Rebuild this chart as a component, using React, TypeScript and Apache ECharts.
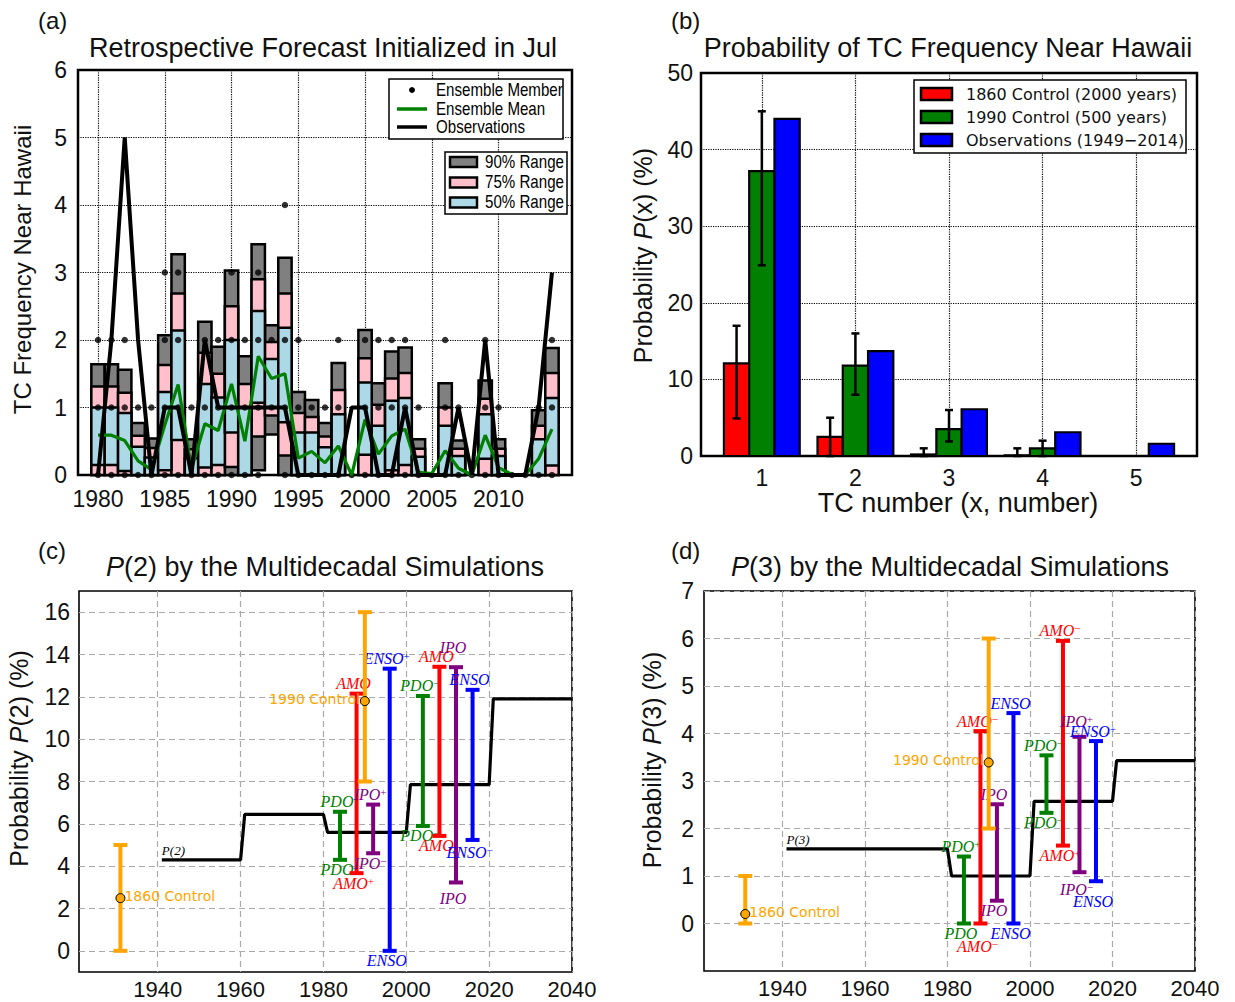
import React, { useEffect, useRef } from 'react';
import * as echarts from 'echarts';

// ---------------- Panel (a): retrospective forecast ----------------
const yearsA = [1980, 1981, 1982, 1983, 1984, 1985, 1986, 1987, 1988, 1989, 1990, 1991, 1992, 1993, 1994, 1995, 1996, 1997, 1998, 1999, 2000, 2001, 2002, 2003, 2004, 2005, 2006, 2007, 2008, 2009, 2010, 2011, 2012, 2013, 2014];
const range90Low = [0, 0, 0, 0, 0, 0, 0, 0, 0, 0, 0, 0, 0.07, 0.6, 0, 0, 0, 0, 0, null, 0, 0, 0, 0, 0, null, 0, 0, null, 0, 0, null, null, 0, 0];
const range90High = [1.64, 1.64, 1.56, 0.77, 0.54, 2.07, 3.27, 0.53, 2.27, 1.9, 3.03, 1.76, 3.42, 2.22, 3.22, 1.23, 1.11, 0.77, 1.66, null, 2.15, 1.36, 1.83, 1.89, 0.53, null, 1.36, 0.51, null, 1.4, 0.53, null, null, 0.96, 1.88];
const range75Low = [0, 0, 0, 0, 0, 0, 0, 0, 0, 0, 0.12, 0, 0.57, 0.88, 0.29, 0, 0, 0, 0, null, 0, 0, 0, 0, 0, null, 0, 0, null, 0, 0, null, null, 0, 0];
const range75High = [1.31, 1.31, 1.22, 0.58, 0.4, 1.63, 2.69, 0.38, 1.81, 1.5, 2.5, 1.35, 2.9, 1.97, 2.69, 0.92, 0.86, 0.57, 1.26, null, 1.73, 1.04, 1.43, 1.51, 0.39, null, 1.0, 0.39, null, 1.13, 0.39, null, null, 0.73, 1.51];
const range50Low = [0.15, 0.15, 0.06, 0, 0, 0.07, 0.52, 0, 0.11, 0.15, 0.63, 0, 1.07, 1.0, 0.78, 0, 0, 0, 0, null, 0.3, 0, 0.07, 0.15, 0, null, 0, 0, null, 0.24, 0, null, null, 0, 0.14];
const range50High = [1.0, 1.0, 0.92, 0.42, 0.26, 1.23, 2.14, 0.25, 1.35, 1.15, 2.0, 1.0, 2.43, 1.72, 2.18, 0.63, 0.63, 0.41, 0.9, null, 1.37, 0.73, 1.1, 1.14, 0.27, null, 0.73, 0.28, null, 0.9, 0.28, null, null, 0.53, 1.14];
const ensembleMean = [0.59, 0.59, 0.51, 0.21, 0.08, 0.74, 1.34, 0.09, 0.76, 0.66, 1.35, 0.5, 1.76, 1.43, 1.5, 0.25, 0.35, 0.18, 0.43, 0, 0.82, 0.31, 0.58, 0.68, 0.04, 0.02, 0.36, 0.1, 0, 0.59, 0.11, 0.01, 0, 0.24, 0.68];
const observedCount = [0, 2, 5, 2, 0, 1, 1, 0, 2, 1, 1, 1, 1, 1, 1, 0, 0, 0, 0, 1, 1, 0, 0, 1, 0, 0, 0, 1, 0, 2, 0, 0, 0, 1, 3];
const memberLevels = [
  [0, 1, 2], [0, 1, 2], [0, 1, 2], [0, 1], [0, 1], [0, 1, 2, 3], [0, 1, 2, 3], [0, 1], [0, 1, 2], [0, 1, 2],
  [0, 1, 2, 3], [0, 1, 2], [0, 1, 2, 3], [1, 2], [0, 1, 2, 4], [0, 1, 2], [0, 1], [0, 1], [0, 1, 2], [0],
  [0, 1, 2], [0, 1, 2], [0, 1, 2], [0, 1, 2], [0, 1], [0], [0, 1, 2], [0, 1], [0], [0, 1, 2],
  [0, 1], [0], [0], [0, 1], [0, 1, 2],
];
const xTicksA = [1980, 1985, 1990, 1995, 2000, 2005, 2010];

// ---------------- Panel (b): probability of TC frequency ----------------
const tcNumbers = [1, 2, 3, 4, 5];
const prob1860 = [12.1, 2.5, 0.2, 0.1, 0];
const prob1860Low = [4.9, 0, 0, 0, 0];
const prob1860High = [17.0, 5.0, 1.0, 1.0, 0];
const prob1990 = [37.2, 11.8, 3.5, 1.0, 0];
const prob1990Low = [24.9, 8.0, 1.9, 0, 0];
const prob1990High = [45.0, 16.0, 6.0, 2.0, 0];
const probObs = [44.0, 13.7, 6.1, 3.1, 1.6];
const legendB = ['1860 Control (2000 years)', '1990 Control (500 years)', 'Observations (1949\u22122014)'];

// ---------------- Panels (c), (d): multidecadal simulations ----------------
const periodStart = [1941, 1961, 1981, 2001, 2021];
const periodEnd = [1960, 1980, 2000, 2020, 2040];
const p2Period = [4.3, 6.45, 5.6, 7.85, 11.9];
const p3Period = [1.57, 1.57, 1.0, 2.57, 3.43];

const modeYear = [1984, 1988, 1992, 1996, 2004, 2008, 2012, 2016];
const modeName = ['PDO', 'AMO', 'IPO', 'ENSO', 'PDO', 'AMO', 'IPO', 'ENSO'];
const p2ModeLow = [4.3, 3.67, 4.61, 0, 5.9, 5.43, 3.23, 5.24];
const p2ModeHigh = [6.57, 12.15, 6.91, 13.33, 12.04, 13.42, 13.4, 12.33];
const p2TopLabel = ['PDO', 'AMO', 'IPO\u207A', 'ENSO\u207A', 'PDO\u207B', 'AMO', 'IPO', 'ENSO'];
const p2BottomLabel = ['PDO', 'AMO\u207A', 'IPO\u207B', 'ENSO', 'PDO\u207B', 'AMO', 'IPO', 'ENSO\u207B'];
const p3ModeLow = [0, 0, 0.48, 0, 2.33, 1.64, 1.08, 0.89];
const p3ModeHigh = [1.41, 4.05, 2.51, 4.43, 3.54, 5.95, 3.93, 3.84];
const p3TopLabel = ['PDO\u207A', 'AMO\u207B', 'IPO', 'ENSO', 'PDO\u207B', 'AMO\u207B', 'IPO\u207A', 'ENSO\u207A'];
const p3BottomLabel = ['PDO', 'AMO\u207B', 'IPO', 'ENSO', 'PDO\u207B', 'AMO\u207A', 'IPO\u207B', 'ENSO'];

const controlYear = [1931, 1990];
const controlName = ['1860 Control', '1990 Control'];
const p2ControlLow = [0, 8.0];
const p2ControlHigh = [5.0, 16.0];
const p2ControlMean = [2.49, 11.8];
const p3ControlLow = [0, 2.0];
const p3ControlHigh = [1.0, 6.0];
const p3ControlMean = [0.2, 3.39];

const xTicksCD = [1940, 1960, 1980, 2000, 2020, 2040];
const yTicksC = [0, 2, 4, 6, 8, 10, 12, 14, 16];
const yTicksD = [0, 1, 2, 3, 4, 5, 6, 7];

// ---------------- styles ----------------
const SANS = 'Liberation Sans';
const DEJA = 'DejaVu Sans';
const SERIF = 'Liberation Serif';
const modeColor: Record<string, string> = { PDO: '#008000', AMO: '#ff0000', IPO: '#800080', ENSO: '#0000ff' };
const ORANGE = '#ffa500';
// extra label nudges (pixels) for crowded labels
const p2TopNudge = [0, 0, 0, 0, 0, 0, 10, 0];
const p2BottomNudge = [0, 0, 0, 0, 0, 0, 6, 3];
const p3TopNudge = [0, 0, 0, 0, 0, 0, 5, 0];
const p3BottomNudge = [0, 13, 0, 0, 0, 0, 7, 10];
const controlSide = ['right', 'left'];

function txt(text: string, x: number, y: number, fill: string, font: string, align = 'center', vAlign = 'middle', extra: any = {}) {
  return {
    type: 'text',
    x, y,
    style: { text, fill, font, textAlign: align, textVerticalAlign: vAlign, align, verticalAlign: vAlign, ...extra },
  };
}

function supText(label: string) {
  return label.replace('\u207A', '{s|+}').replace('\u207B', '{s|\u2212}');
}

function rangeBar(fill: string) {
  return (params: any, api: any) => {
    const x = api.value(0), lo = api.value(1), hi = api.value(2);
    const a = api.coord([x - 0.5, hi]);
    const b = api.coord([x + 0.5, lo]);
    return {
      type: 'rect',
      shape: { x: a[0], y: a[1], width: b[0] - a[0], height: b[1] - a[1] },
      style: { fill, stroke: '#000', lineWidth: 2.5 },
    };
  };
}

function probBar(fill: string, offset: number) {
  return (params: any, api: any) => {
    const x = api.value(0) + offset, v = api.value(1);
    const a = api.coord([x - 0.135, v]);
    const b = api.coord([x + 0.135, 0]);
    return {
      type: 'rect',
      shape: { x: a[0], y: a[1], width: b[0] - a[0], height: b[1] - a[1] },
      style: { fill, stroke: '#000', lineWidth: 2.2 },
    };
  };
}

function errBarB(offset: number) {
  return (params: any, api: any) => {
    const x = api.value(0) + offset, lo = api.value(1), hi = api.value(2);
    if (hi - lo <= 0) return null;
    const t = api.coord([x, hi]);
    const b = api.coord([x, lo]);
    const st = { stroke: '#000', lineWidth: 2.5 };
    return {
      type: 'group',
      children: [
        { type: 'line', shape: { x1: t[0], y1: t[1], x2: b[0], y2: b[1] }, style: st },
        { type: 'line', shape: { x1: t[0] - 4, y1: t[1], x2: t[0] + 4, y2: t[1] }, style: st },
        { type: 'line', shape: { x1: b[0] - 4, y1: b[1], x2: b[0] + 4, y2: b[1] }, style: st },
      ],
    };
  };
}

function modeText(label: string, x: number, y: number, color: string) {
  return {
    type: 'text', x, y,
    style: {
      text: supText(label), fill: color,
      font: `italic 16px "${SERIF}"`, fontStyle: 'italic', fontSize: 16, fontFamily: SERIF,
      textAlign: 'center', textVerticalAlign: 'middle', align: 'center', verticalAlign: 'middle',
      rich: { s: { fontSize: 11, fontFamily: SERIF, fontStyle: 'normal', fill: color, verticalAlign: 'top', textVerticalAlign: 'top' } },
    },
  };
}

function modeRender(top: string[], bottom: string[], topNudge: number[], bottomNudge: number[]) {
  return (params: any, api: any) => {
    const i = params.dataIndex;
    const x = api.value(0), lo = api.value(1), hi = api.value(2);
    const t = api.coord([x, hi]);
    const b = api.coord([x, lo]);
    const color = modeColor[modeName[i]];
    const st = { stroke: color, lineWidth: 4 };
    return {
      type: 'group',
      children: [
        { type: 'line', shape: { x1: t[0], y1: t[1], x2: b[0], y2: b[1] }, style: st },
        { type: 'line', shape: { x1: t[0] - 7, y1: t[1], x2: t[0] + 7, y2: t[1] }, style: st },
        { type: 'line', shape: { x1: b[0] - 7, y1: b[1], x2: b[0] + 7, y2: b[1] }, style: st },
        modeText(top[i], t[0] - 3, t[1] - 10 - topNudge[i], color),
        modeText(bottom[i], b[0] - 3, b[1] + 10 + bottomNudge[i], color),
      ],
    };
  };
}

function controlRender(params: any, api: any) {
  const i = params.dataIndex;
  const x = api.value(0), lo = api.value(1), hi = api.value(2), mid = api.value(3);
  const t = api.coord([x, hi]);
  const b = api.coord([x, lo]);
  const m = api.coord([x, mid]);
  const st = { stroke: ORANGE, lineWidth: 4 };
  const right = controlSide[i] === 'right';
  return {
    type: 'group',
    children: [
      { type: 'line', shape: { x1: t[0], y1: t[1], x2: b[0], y2: b[1] }, style: st },
      { type: 'line', shape: { x1: t[0] - 7, y1: t[1], x2: t[0] + 7, y2: t[1] }, style: st },
      { type: 'line', shape: { x1: b[0] - 7, y1: b[1], x2: b[0] + 7, y2: b[1] }, style: st },
      { type: 'circle', shape: { cx: m[0], cy: m[1], r: 4.5 }, style: { fill: ORANGE, stroke: '#000', lineWidth: 1 } },
      txt(controlName[i], right ? m[0] + 4 : m[0] - 5, m[1] - 2, ORANGE, `14px "${DEJA}"`, right ? 'left' : 'right'),
    ],
  };
}

function stepLabel(label: string) {
  return (params: any, api: any) => {
    const p = api.coord([api.value(0), api.value(1)]);
    return txt(label, p[0], p[1] - 9, '#000', `italic 13px "${SERIF}"`, 'left');
  };
}

function stepData(vals: number[]) {
  const out: number[][] = [];
  periodStart.forEach((s, i) => {
    out.push([s, vals[i]]);
    out.push([periodEnd[i], vals[i]]);
  });
  return out;
}

const plain = (v: number) => String(v);
const labelStyle = { fontFamily: SANS, fontSize: 23, color: '#111', formatter: plain };
const dottedGrid = { show: true, lineStyle: { color: '#000', type: 'dotted', width: 1.2 } };
const dashedGrid = { show: true, lineStyle: { color: '#aaaaaa', type: [6, 4], width: 1.2 } };
const nameStyle = (size: number, padding: number[] = [0, 0, 0, 0]) => ({
  fontFamily: SANS, fontSize: size, color: '#111', padding,
  rich: { i: { fontFamily: SANS, fontSize: size, fontStyle: 'italic', color: '#111' } },
});

function buildOption() {
  const idx = yearsA.map((_, i) => i).filter((i) => range90High[i] != null);
  const barData = (lo: any[], hi: any[]) => idx.map((i) => [yearsA[i], lo[i], hi[i]]);
  const dots: number[][] = [];
  yearsA.forEach((y, i) => memberLevels[i].forEach((l) => dots.push([y, l])));

  const richTitle = (text: string, x: number, y: number) => ({
    type: 'text', x, y,
    style: {
      text, fill: '#111', font: `27px "${SANS}"`, fontSize: 27, fontFamily: SANS,
      textAlign: 'center', textVerticalAlign: 'middle', align: 'center', verticalAlign: 'middle',
      rich: { i: { fontStyle: 'italic', fontSize: 27, fontFamily: SANS, fill: '#111' } },
    },
  });
  const legTextA = (text: string, x: number, y: number) => ({
    type: 'text', x, y, scaleX: 0.84,
    style: { text, fill: '#000', font: `18px "${SANS}"`, textAlign: 'left', textVerticalAlign: 'middle', align: 'left', verticalAlign: 'middle' },
  });

  const graphic: any[] = [
    txt('(a)', 38, 20, '#111', `24px "${SANS}"`, 'left'),
    txt('(b)', 671, 20, '#111', `24px "${SANS}"`, 'left'),
    txt('(c)', 38, 550, '#111', `24px "${SANS}"`, 'left'),
    txt('(d)', 671, 550, '#111', `24px "${SANS}"`, 'left'),
    richTitle('Retrospective Forecast Initialized in Jul', 323, 48),
    richTitle('Probability of TC Frequency Near Hawaii', 948, 48),
    richTitle('{i|P}(2) by the Multidecadal Simulations', 325, 567),
    richTitle('{i|P}(3) by the Multidecadal Simulations', 950, 567),
    // legend 1 (panel a)
    { type: 'rect', shape: { x: 389, y: 79, width: 174, height: 60 }, style: { fill: '#fff', stroke: '#000', lineWidth: 1.5 }, z: 100 },
    { type: 'circle', shape: { cx: 412, cy: 90, r: 3 }, style: { fill: '#000' }, z: 101 },
    { type: 'line', shape: { x1: 397, y1: 109, x2: 427, y2: 109 }, style: { stroke: '#008000', lineWidth: 3.5 }, z: 101 },
    { type: 'line', shape: { x1: 397, y1: 127, x2: 427, y2: 127 }, style: { stroke: '#000', lineWidth: 3.5 }, z: 101 },
    { ...legTextA('Ensemble Member', 436, 90), z: 101 },
    { ...legTextA('Ensemble Mean', 436, 109), z: 101 },
    { ...legTextA('Observations', 436, 127), z: 101 },
    // legend 2 (panel a)
    { type: 'rect', shape: { x: 445, y: 152, width: 122, height: 62 }, style: { fill: '#fff', stroke: '#000', lineWidth: 1.5 }, z: 100 },
    { type: 'rect', shape: { x: 450, y: 157, width: 27, height: 10 }, style: { fill: '#808080', stroke: '#000', lineWidth: 2.5 }, z: 101 },
    { type: 'rect', shape: { x: 450, y: 177.5, width: 27, height: 10 }, style: { fill: '#ffc0cb', stroke: '#000', lineWidth: 2.5 }, z: 101 },
    { type: 'rect', shape: { x: 450, y: 197.5, width: 27, height: 10 }, style: { fill: '#add8e6', stroke: '#000', lineWidth: 2.5 }, z: 101 },
    { ...legTextA('90% Range', 485, 162), z: 101 },
    { ...legTextA('75% Range', 485, 182.5), z: 101 },
    { ...legTextA('50% Range', 485, 202.5), z: 101 },
    // legend (panel b)
    { type: 'rect', shape: { x: 914, y: 80, width: 272, height: 73 }, style: { fill: '#fff', stroke: '#000', lineWidth: 1.5 }, z: 100 },
  ];
  const legColorsB = ['#ff0000', '#008000', '#0000ff'];
  legendB.forEach((name, i) => {
    const cy = 94 + i * 23;
    graphic.push({ type: 'rect', shape: { x: 921, y: cy - 6, width: 31, height: 12 }, style: { fill: legColorsB[i], stroke: '#000', lineWidth: 2.5 }, z: 101 });
    graphic.push({ ...txt(name, 966, cy, '#111', `16px "${DEJA}"`, 'left'), z: 101 });
  });

  return {
    animation: false,
    backgroundColor: '#fff',
    grid: [
      { left: 78, top: 70, width: 494, height: 405, show: true, borderColor: '#000', borderWidth: 2.5 },
      { left: 701, top: 73, width: 496, height: 383, show: true, borderColor: '#000', borderWidth: 2.5 },
      { left: 79, top: 591, width: 493, height: 381, show: true, borderColor: '#000', borderWidth: 1.6 },
      { left: 704, top: 591, width: 491, height: 380, show: true, borderColor: '#000', borderWidth: 1.6 },
    ],
    xAxis: [
      {
        gridIndex: 0, type: 'value', min: 1978.5, max: 2015.5,
        axisLine: { show: false }, axisTick: { show: false, customValues: xTicksA },
        axisLabel: { ...labelStyle, margin: 12, customValues: xTicksA }, splitLine: dottedGrid,
      },
      {
        gridIndex: 1, type: 'value', min: 0.35, max: 5.65,
        axisLine: { show: false }, axisTick: { show: false, customValues: tcNumbers },
        axisLabel: { ...labelStyle, margin: 10, customValues: tcNumbers }, splitLine: dottedGrid,
        name: 'TC number (x, number)', nameLocation: 'middle', nameGap: 33, nameTextStyle: nameStyle(27, [0, 0, 0, 18]),
      },
      {
        gridIndex: 2, type: 'value', min: 1921, max: 2040,
        axisLine: { show: false }, axisTick: { show: false, customValues: xTicksCD },
        axisLabel: { ...labelStyle, fontSize: 22, margin: 6, customValues: xTicksCD }, splitLine: dashedGrid,
      },
      {
        gridIndex: 3, type: 'value', min: 1921, max: 2040,
        axisLine: { show: false }, axisTick: { show: false, customValues: xTicksCD },
        axisLabel: { ...labelStyle, fontSize: 22, margin: 6, customValues: xTicksCD }, splitLine: dashedGrid,
      },
    ],
    yAxis: [
      {
        gridIndex: 0, type: 'value', min: 0, max: 6, interval: 1,
        axisLine: { show: false }, axisTick: { show: false },
        axisLabel: { ...labelStyle, margin: 11 }, splitLine: dottedGrid,
        name: 'TC Frequency Near Hawaii', nameLocation: 'middle', nameRotate: 90, nameGap: 44, nameTextStyle: nameStyle(24, [0, 0, 0, 6]),
      },
      {
        gridIndex: 1, type: 'value', min: 0, max: 50, interval: 10,
        axisLine: { show: false }, axisTick: { show: false },
        axisLabel: { ...labelStyle, margin: 8 }, splitLine: dottedGrid,
        name: 'Probability {i|P}(x) (%)', nameLocation: 'middle', nameRotate: 90, nameGap: 46, nameTextStyle: nameStyle(25, [0, 0, 0, 18]),
      },
      {
        gridIndex: 2, type: 'value', min: -1, max: 17,
        axisLine: { show: false }, axisTick: { show: false, customValues: yTicksC },
        axisLabel: { ...labelStyle, margin: 9, customValues: yTicksC }, splitLine: dashedGrid,
        name: 'Probability {i|P}(2) (%)', nameLocation: 'middle', nameRotate: 90, nameGap: 48, nameTextStyle: nameStyle(25, [0, 0, 0, 46]),
      },
      {
        gridIndex: 3, type: 'value', min: -1, max: 7,
        axisLine: { show: false }, axisTick: { show: false, customValues: yTicksD },
        axisLabel: { ...labelStyle, margin: 10, customValues: yTicksD }, splitLine: dashedGrid,
        name: 'Probability {i|P}(3) (%)', nameLocation: 'middle', nameRotate: 90, nameGap: 40, nameTextStyle: nameStyle(25, [0, 0, 0, 42]),
      },
    ],
    series: [
      // ----- panel a -----
      { type: 'custom', name: '90% Range', xAxisIndex: 0, yAxisIndex: 0, z: 2, renderItem: rangeBar('#808080'), data: barData(range90Low, range90High) },
      { type: 'custom', name: '75% Range', xAxisIndex: 0, yAxisIndex: 0, z: 2, renderItem: rangeBar('#ffc0cb'), data: barData(range75Low, range75High) },
      { type: 'custom', name: '50% Range', xAxisIndex: 0, yAxisIndex: 0, z: 2, renderItem: rangeBar('#add8e6'), data: barData(range50Low, range50High) },
      { type: 'scatter', name: 'Ensemble Member', xAxisIndex: 0, yAxisIndex: 0, z: 3, symbolSize: 6.5, itemStyle: { color: '#000' }, data: dots },
      {
        type: 'line', name: 'Ensemble Mean', xAxisIndex: 0, yAxisIndex: 0, z: 4, symbol: 'none',
        lineStyle: { color: '#008000', width: 3.2 }, data: yearsA.map((y, i) => [y, ensembleMean[i]]),
      },
      {
        type: 'line', name: 'Observations', xAxisIndex: 0, yAxisIndex: 0, z: 5, symbol: 'none',
        lineStyle: { color: '#000', width: 4 }, data: yearsA.map((y, i) => [y, observedCount[i]]),
      },
      // ----- panel b -----
      { type: 'custom', name: legendB[0], xAxisIndex: 1, yAxisIndex: 1, z: 2, renderItem: probBar('#ff0000', -0.27), data: tcNumbers.map((n, i) => [n, prob1860[i]]) },
      { type: 'custom', name: legendB[1], xAxisIndex: 1, yAxisIndex: 1, z: 2, renderItem: probBar('#008000', 0), data: tcNumbers.map((n, i) => [n, prob1990[i]]) },
      { type: 'custom', name: legendB[2], xAxisIndex: 1, yAxisIndex: 1, z: 2, renderItem: probBar('#0000ff', 0.27), data: tcNumbers.map((n, i) => [n, probObs[i]]) },
      { type: 'custom', xAxisIndex: 1, yAxisIndex: 1, z: 3, renderItem: errBarB(-0.27), data: tcNumbers.map((n, i) => [n, prob1860Low[i], prob1860High[i]]) },
      { type: 'custom', xAxisIndex: 1, yAxisIndex: 1, z: 3, renderItem: errBarB(0), data: tcNumbers.map((n, i) => [n, prob1990Low[i], prob1990High[i]]) },
      // ----- panel c -----
      { type: 'line', xAxisIndex: 2, yAxisIndex: 2, z: 2, symbol: 'none', lineStyle: { color: '#000', width: 3.2 }, data: stepData(p2Period) },
      { type: 'custom', xAxisIndex: 2, yAxisIndex: 2, z: 3, renderItem: stepLabel('P(2)'), data: [[periodStart[0], p2Period[0]]] },
      { type: 'custom', xAxisIndex: 2, yAxisIndex: 2, z: 4, renderItem: modeRender(p2TopLabel, p2BottomLabel, p2TopNudge, p2BottomNudge), data: modeYear.map((y, i) => [y, p2ModeLow[i], p2ModeHigh[i]]) },
      { type: 'custom', xAxisIndex: 2, yAxisIndex: 2, z: 5, renderItem: controlRender, data: controlYear.map((y, i) => [y, p2ControlLow[i], p2ControlHigh[i], p2ControlMean[i]]) },
      // ----- panel d -----
      { type: 'line', xAxisIndex: 3, yAxisIndex: 3, z: 2, symbol: 'none', lineStyle: { color: '#000', width: 3.2 }, data: stepData(p3Period) },
      { type: 'custom', xAxisIndex: 3, yAxisIndex: 3, z: 3, renderItem: stepLabel('P(3)'), data: [[periodStart[0], p3Period[0]]] },
      { type: 'custom', xAxisIndex: 3, yAxisIndex: 3, z: 4, renderItem: modeRender(p3TopLabel, p3BottomLabel, p3TopNudge, p3BottomNudge), data: modeYear.map((y, i) => [y, p3ModeLow[i], p3ModeHigh[i]]) },
      { type: 'custom', xAxisIndex: 3, yAxisIndex: 3, z: 5, renderItem: controlRender, data: controlYear.map((y, i) => [y, p3ControlLow[i], p3ControlHigh[i], p3ControlMean[i]]) },
    ],
    graphic,
  };
}

export default function App() {
  const ref = useRef<HTMLDivElement>(null);
  useEffect(() => {
    const chart = echarts.init(ref.current as HTMLDivElement, null, { renderer: 'svg' });
    chart.setOption(buildOption() as any);
    return () => chart.dispose();
  }, []);
  return (
    <div
      ref={ref}
      style={{ position: 'absolute', left: 0, top: 0, width: 1235, height: 1002, background: '#fff' }}
    />
  );
}
